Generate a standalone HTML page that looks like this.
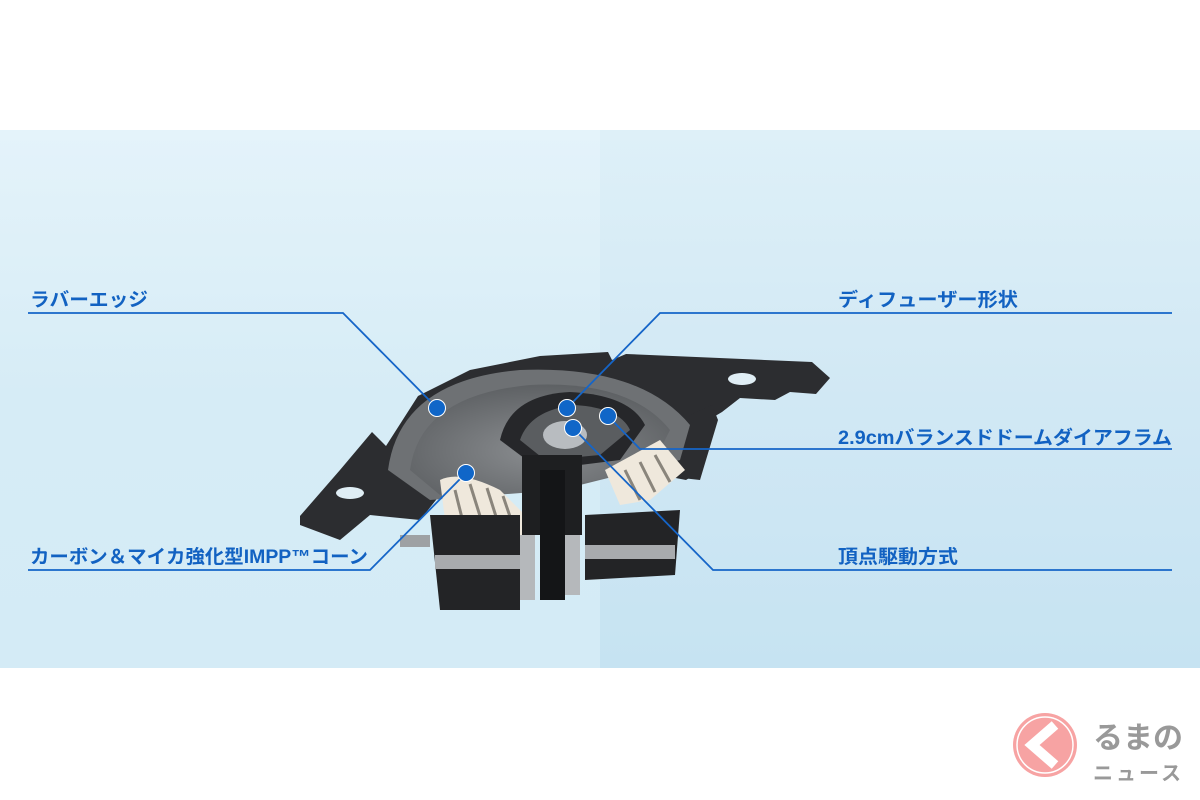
<!DOCTYPE html>
<html><head><meta charset="utf-8"><style>
html,body{margin:0;padding:0;background:#fff;width:1200px;height:800px;overflow:hidden}
svg{display:block}
text{font-family:"Liberation Sans","Noto Sans CJK JP",sans-serif;font-weight:bold;fill:#1262c2}
</style></head><body>
<svg width="1200" height="800" viewBox="0 0 1200 800" xmlns="http://www.w3.org/2000/svg">
<defs>
<linearGradient id="bgL" x1="0" y1="0" x2="0" y2="1">
<stop offset="0" stop-color="#e4f3fa"/><stop offset="0.5" stop-color="#d6ecf6"/><stop offset="1" stop-color="#d4ebf6"/>
</linearGradient>
<linearGradient id="bgR" x1="0" y1="0" x2="0" y2="1">
<stop offset="0" stop-color="#def0f8"/><stop offset="0.5" stop-color="#d1e8f4"/><stop offset="1" stop-color="#c6e3f2"/>
</linearGradient>
<radialGradient id="cone" cx="0.5" cy="0.6" r="0.6">
<stop offset="0" stop-color="#8a8d90"/><stop offset="1" stop-color="#5e6164"/>
</radialGradient>
</defs>
<rect x="0" y="130" width="600" height="538" fill="url(#bgL)"/>
<rect x="600" y="130" width="600" height="538" fill="url(#bgR)"/>

<!-- speaker frame -->
<path d="M300,516 L340,470 L372,432 L386,446 L418,396 L470,370 L540,356 L608,352 L612,360 L626,354 L812,362 L830,378 L816,394 L790,392 L775,400 L740,398 L722,412 L700,425 L702,470 L686,480 L660,475 L630,470 L560,480 L440,495 L420,520 L370,515 L340,540 L300,525 Z" fill="#2c2d30"/>
<path d="M690,415 L712,405 L718,420 L700,480 L682,478 Z" fill="#2c2d30"/>
<ellipse cx="350" cy="493" rx="14" ry="6" fill="#e0eef5"/>
<ellipse cx="742" cy="379" rx="14" ry="6" fill="#e0eef5"/>
<!-- cone/edge -->
<path d="M388,470 Q400,380 520,370 Q640,365 690,425 L680,460 L560,490 L430,500 Z" fill="#6e7174"/>
<path d="M410,470 Q420,395 530,385 Q630,380 670,430 L650,470 L540,490 L440,495 Z" fill="url(#cone)"/>
<path d="M500,440 Q510,395 570,392 Q630,395 645,425 L620,460 L540,470 Z" fill="#26272a"/>
<path d="M520,440 Q530,410 575,405 Q620,408 630,430 L600,455 L545,460 Z" fill="#5a5d60"/>
<ellipse cx="565" cy="435" rx="22" ry="14" fill="#b8bcc0"/>
<!-- spider left -->
<path d="M440,480 Q460,470 500,490 L530,520 L520,550 L470,555 L445,520 Z" fill="#efe8dc"/>
<path d="M455,490 L470,550 M470,484 L490,548 M487,488 L505,545 M503,496 L518,540" stroke="#8a857c" stroke-width="3" fill="none"/>
<!-- spider right -->
<path d="M605,470 L660,440 L685,470 L650,500 L620,505 Z" fill="#efe8dc"/>
<path d="M625,470 L640,500 M640,462 L655,492 M655,455 L670,482" stroke="#8a857c" stroke-width="3" fill="none"/>
<!-- center stack -->
<rect x="522" y="455" width="60" height="80" fill="#1e1f21"/>
<rect x="540" y="470" width="25" height="130" fill="#141517"/>
<!-- magnet -->
<path d="M430,515 L520,515 L520,610 L440,610 Z" fill="#232426"/>
<rect x="435" y="555" width="90" height="14" fill="#a8abae"/>
<path d="M585,515 L680,510 L675,575 L585,580 Z" fill="#232426"/>
<rect x="585" y="545" width="90" height="14" fill="#a8abae"/>
<rect x="520" y="535" width="15" height="65" fill="#b5b8bb"/>
<rect x="565" y="535" width="15" height="60" fill="#b5b8bb"/>
<rect x="400" y="535" width="30" height="12" fill="#9ea1a4"/>

<!-- leader lines -->
<g stroke="#1565c8" stroke-width="1.8" fill="none">
<polyline points="28,313 343,313 437,408"/>
<polyline points="28,570 370,570 466,473"/>
<polyline points="1172,313 660,313 567,408"/>
<polyline points="1172,449 640,449 608,416"/>
<polyline points="1172,570 713,570 573,428"/>
</g>
<g fill="#1066c8" stroke="#fff" stroke-width="1">
<circle cx="437" cy="408" r="8.5"/>
<circle cx="466" cy="473" r="8.5"/>
<circle cx="567" cy="408" r="8.5"/>
<circle cx="608" cy="416" r="8.5"/>
<circle cx="573" cy="428" r="8.5"/>
</g>

<text x="30" y="306" font-size="19" textLength="118" lengthAdjust="spacingAndGlyphs">ラバーエッジ</text>
<text x="30" y="563" font-size="19" textLength="338" lengthAdjust="spacingAndGlyphs">カーボン＆マイカ強化型IMPP™コーン</text>
<text x="838" y="306" font-size="19" textLength="180" lengthAdjust="spacingAndGlyphs">ディフューザー形状</text>
<text x="838" y="444" font-size="19" textLength="334" lengthAdjust="spacingAndGlyphs">2.9cmバランスドドームダイアフラム</text>
<text x="838" y="563" font-size="19" textLength="120" lengthAdjust="spacingAndGlyphs">頂点駆動方式</text>

<!-- logo -->
<circle cx="1045" cy="745" r="32" fill="#f7a3a3"/>
<circle cx="1045" cy="745" r="28" fill="none" stroke="#fff" stroke-width="1.5"/>
<path d="M1055,725 L1032,745 L1055,765" stroke="#fff" stroke-width="10" fill="none" stroke-linejoin="miter"/>
<text x="1093" y="748" font-size="30" style="fill:#999">るまの</text>
<text x="1093" y="780" font-size="20" letter-spacing="3" style="fill:#999">ニュース</text>
</svg>
</body></html>
